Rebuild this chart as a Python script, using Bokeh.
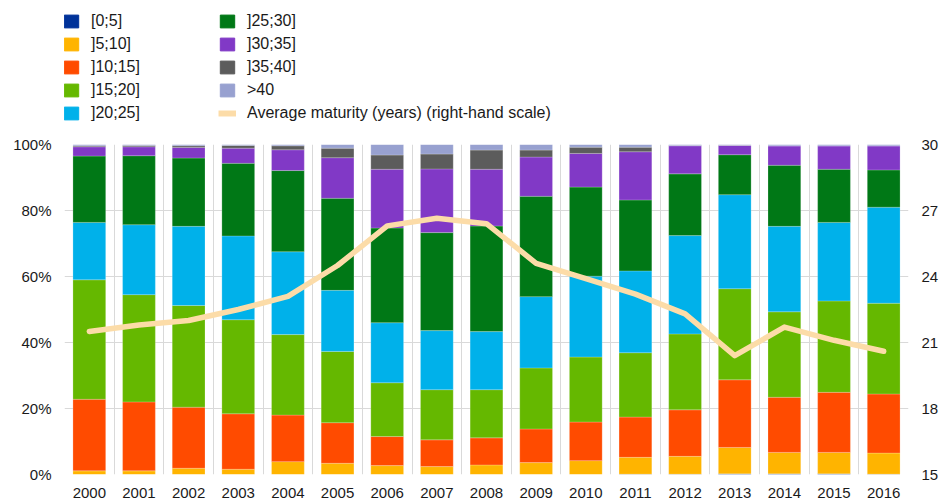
from bokeh.plotting import figure
from bokeh.layouts import column
from bokeh.models import (ColumnDataSource, LinearAxis, Range1d, Legend, LegendItem,
                          FixedTicker, Grid, PrintfTickFormatter)
from bokeh.embed import file_html
from bokeh.resources import INLINE

years = ["2000", "2001", "2002", "2003", "2004", "2005", "2006", "2007", "2008",
         "2009", "2010", "2011", "2012", "2013", "2014", "2015", "2016"]

b0_5   = [0.0, 0.0, 0.0, 0.0, 0.0, 0.0, 0.0, 0.0, 0.0, 0.0, 0.0, 0.1, 0.1, 0.2, 0.2, 0.2, 0.1]
b5_10  = [1.1, 1.1, 1.9, 1.6, 3.9, 3.4, 2.7, 2.4, 2.9, 3.6, 4.2, 5.1, 5.4, 8.0, 6.5, 6.5, 6.4]
b10_15 = [21.7, 20.9, 18.5, 16.8, 14.1, 12.3, 8.8, 8.1, 8.2, 10.2, 11.7, 12.2, 14.1, 20.5, 16.7, 18.2, 17.9]
b15_20 = [36.2, 32.5, 30.8, 28.5, 24.4, 21.6, 16.3, 15.2, 14.6, 18.5, 19.7, 19.5, 23.0, 27.6, 25.9, 27.7, 27.5]
b20_25 = [17.4, 21.2, 24.0, 25.4, 25.1, 18.5, 18.2, 17.9, 17.6, 21.6, 24.5, 24.8, 29.8, 28.5, 25.9, 23.8, 29.1]
b25_30 = [20.1, 20.9, 20.7, 22.0, 24.6, 27.9, 28.7, 29.7, 32.0, 30.4, 27.0, 21.5, 18.7, 12.1, 18.5, 16.1, 11.3]
b30_35 = [2.8, 2.7, 3.2, 4.6, 6.3, 12.3, 17.8, 19.3, 17.2, 11.9, 10.2, 14.6, 8.5, 2.8, 5.9, 7.1, 7.3]
b35_40 = [0.3, 0.4, 0.5, 0.8, 1.2, 2.9, 4.3, 4.5, 5.8, 2.1, 1.9, 1.4, 0.1, 0.1, 0.0, 0.0, 0.0]
gt40   = [0.4, 0.3, 0.4, 0.3, 0.4, 1.1, 3.2, 2.9, 1.7, 1.7, 0.8, 0.8, 0.3, 0.2, 0.4, 0.4, 0.4]

avg_maturity = [21.5, 21.8, 22.0, 22.5, 23.1, 24.5, 26.3, 26.65, 26.4, 24.6, 23.9,
                23.2, 22.3, 20.4, 21.7, 21.1, 20.6]

series_keys = ["b0_5", "b5_10", "b10_15", "b15_20", "b20_25", "b25_30", "b30_35", "b35_40", "gt40"]
series_labels = ["[0;5]", "]5;10]", "]10;15]", "]15;20]", "]20;25]", "]25;30]", "]30;35]", "]35;40]", ">40"]
series_colors = ["#003299", "#FFB400", "#FF4B00", "#65B800", "#00B1EA", "#007816",
                 "#8139C6", "#5C5C5C", "#98A1D0"]
line_color = "#FCDCA8"
line_label = "Average maturity (years) (right-hand scale)"
left_ticks = [0, 20, 40, 60, 80, 100]
right_ticks = [15, 18, 21, 24, 27, 30]

xs = list(range(len(years)))
data = dict(x=xs, avg=avg_maturity, b0_5=b0_5, b5_10=b5_10, b10_15=b10_15, b15_20=b15_20,
            b20_25=b20_25, b25_30=b25_30, b30_35=b30_35, b35_40=b35_40, gt40=gt40)
source = ColumnDataSource(data)

FONT = "Liberation Sans"
TEXT = "#1a1a1a"
W = 941

# ---------- main chart ----------
p = figure(width=W, height=370, output_backend="svg", toolbar_location=None,
           x_range=Range1d(-0.5, len(years) - 0.5), y_range=Range1d(0, 100),
           min_border_left=64, min_border_right=32, min_border_top=10, min_border_bottom=30)
p.outline_line_color = None
p.background_fill_color = "white"
p.border_fill_color = "white"

p.xgrid.visible = False
p.ygrid.ticker = FixedTicker(ticks=left_ticks)
p.ygrid.grid_line_color = "#D9D9D9"
vgrid = Grid(dimension=0, ticker=FixedTicker(ticks=[i - 0.5 for i in range(len(years) + 1)]),
             grid_line_color="#D9D9D9")
p.add_layout(vgrid)

bars = p.vbar_stack(series_keys, x="x", width=0.66, color=series_colors, source=source,
                    line_color="white", line_alpha=0.3, line_width=0.7)

p.extra_y_ranges = {"mat": Range1d(15, 30)}
ln = p.line("x", "avg", source=source, y_range_name="mat", line_color=line_color,
            line_width=5.5, line_cap="round", line_join="round")

p.xaxis.ticker = FixedTicker(ticks=xs)
p.xaxis.major_label_overrides = {i: y for i, y in enumerate(years)}
p.yaxis.ticker = FixedTicker(ticks=left_ticks)
p.yaxis.formatter = PrintfTickFormatter(format="%d%%")
rax = LinearAxis(y_range_name="mat", ticker=FixedTicker(ticks=right_ticks))
p.add_layout(rax, "right")

for ax in [p.xaxis[0], p.yaxis[0], rax]:
    ax.axis_line_color = None
    ax.major_tick_line_color = None
    ax.minor_tick_line_color = None
    ax.major_tick_out = 0
    ax.major_tick_in = 0
    ax.minor_tick_out = 0
    ax.minor_tick_in = 0
    ax.major_label_text_font = FONT
    ax.major_label_text_font_size = "15px"
    ax.major_label_text_color = TEXT
p.xaxis.major_label_standoff = 13
p.yaxis.major_label_standoff = 13
rax.major_label_standoff = 13

# ---------- legend panel ----------
lg = figure(width=W, height=134, output_backend="svg", toolbar_location=None,
            x_axis_type=None, y_axis_type=None, x_range=Range1d(0, 1), y_range=Range1d(0, 1),
            min_border_left=0, min_border_right=0, min_border_top=0, min_border_bottom=0)
lg.outline_line_color = None
lg.xgrid.visible = False
lg.ygrid.visible = False

# off-screen placeholder so the legend swatches have something to sample
dummy = ColumnDataSource(dict(x=[-5.0], y=[-5.0]))
items = []
for lab, col in zip(series_labels, series_colors):
    r = lg.vbar(x="x", top="y", width=0.1, source=dummy, color=col)
    items.append(LegendItem(label=lab, renderers=[r]))
rl = lg.line("x", "y", source=dummy, line_color=line_color, line_width=6)
items.append(LegendItem(label=line_label, renderers=[rl]))

legend = Legend(items=items, location=(-2, 11), orientation="vertical", nrows=5,
                padding=0, margin=0, spacing=3, label_width=124, label_height=20,
                glyph_width=18, glyph_height=16, label_standoff=11,
                label_text_font=FONT, label_text_font_size="16px",
                label_text_color=TEXT, background_fill_alpha=0,
                border_line_color=None)
lg.add_layout(legend, "center")

layout = column(lg, p, spacing=0)
open("out.html", "w").write(file_html(layout, INLINE))
